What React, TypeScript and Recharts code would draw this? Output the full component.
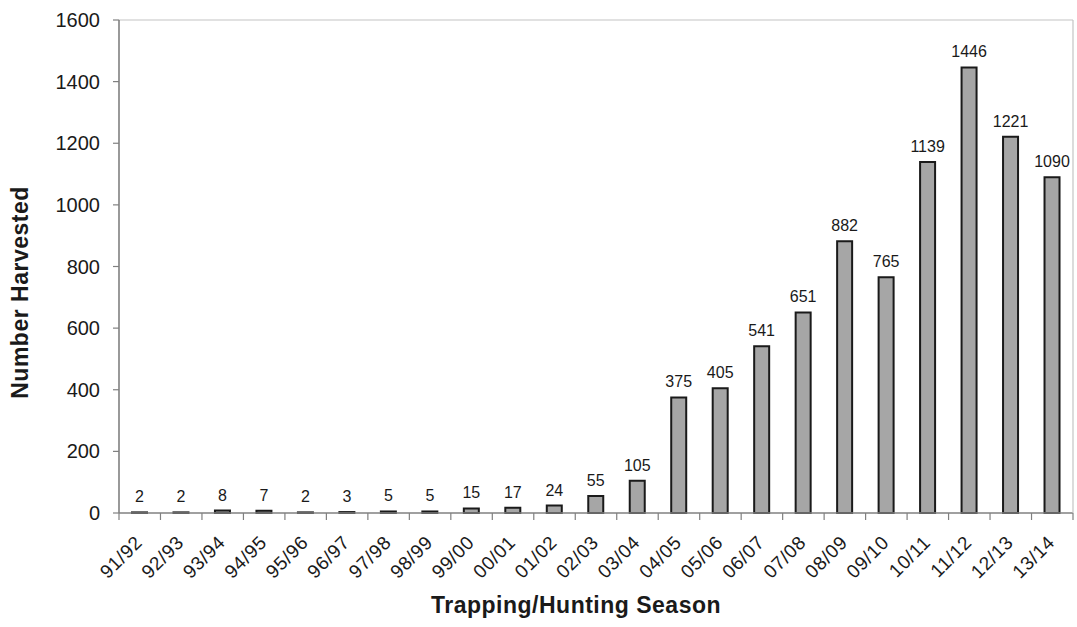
import React from 'react';
import { BarChart, Bar, XAxis, YAxis, LabelList, ReferenceLine } from 'recharts';

const seasons = ['91/92', '92/93', '93/94', '94/95', '95/96', '96/97', '97/98', '98/99', '99/00', '00/01', '01/02', '02/03', '03/04', '04/05', '05/06', '06/07', '07/08', '08/09', '09/10', '10/11', '11/12', '12/13', '13/14'];
const harvested = [2, 2, 8, 7, 2, 3, 5, 5, 15, 17, 24, 55, 105, 375, 405, 541, 651, 882, 765, 1139, 1446, 1221, 1090];
const yTicks = [0, 200, 400, 600, 800, 1000, 1200, 1400, 1600];

const data = seasons.map((s, i) => ({ season: s, value: harvested[i] }));

const W = 1077;
const H = 627;
const Y_AXIS_W = 119;
const RIGHT_W = 4;
const X_AXIS_H = 114;
const PLOT_W = W - Y_AXIS_W - RIGHT_W;

const FONT = '"Liberation Sans", Arial, sans-serif';
const TEXT = '#1a1a1a';
const AXIS = '#808080';
const BORDER = '#c4c4c4';

const XTick = (props: any) => {
  const { x, y, payload, index, visibleTicksCount, width } = props;
  const n = visibleTicksCount || seasons.length;
  const axisW = Number(width) > 100 ? Number(width) : PLOT_W;
  const band = axisW / n;
  return (
    <g>
      <line x1={x - band / 2} x2={x - band / 2} y1={y} y2={y + 7} stroke={AXIS} strokeWidth={1.2} />
      {index === n - 1 && (
        <line x1={x + band / 2} x2={x + band / 2} y1={y} y2={y + 7} stroke={AXIS} strokeWidth={1.2} />
      )}
      <text
        transform={`translate(${x - 1},${y + 26}) rotate(-45)`}
        textAnchor="end"
        dy="0.35em"
        fontSize={19}
        letterSpacing={0.6}
        fontFamily={FONT}
        fill={TEXT}
      >
        {payload.value}
      </text>
    </g>
  );
};

const YTitle = (props: any) => {
  const vb = props.viewBox || { x: 0, y: 20, width: Y_AXIS_W, height: 493 };
  const cx = vb.x + 28;
  const cy = vb.y + vb.height / 2 + 26;
  return (
    <text
      x={cx}
      y={cy}
      transform={`rotate(-90, ${cx}, ${cy})`}
      textAnchor="middle"
      fontSize={23}
      fontWeight="bold"
      letterSpacing={0.5}
      fontFamily={FONT}
      fill={TEXT}
    >
      Number Harvested
    </text>
  );
};

const XTitle = (props: any) => {
  const vb = props.viewBox || { x: Y_AXIS_W, y: 513, width: PLOT_W, height: X_AXIS_H };
  return (
    <text
      x={vb.x + vb.width / 2 - 20}
      y={vb.y + 100}
      textAnchor="middle"
      fontSize={23}
      fontWeight="bold"
      letterSpacing={0.5}
      fontFamily={FONT}
      fill={TEXT}
    >
      Trapping/Hunting Season
    </text>
  );
};

export default function App() {
  return (
    <div style={{ position: 'absolute', left: 0, top: 0, width: W, height: H, background: '#fff' }}>
      <BarChart
        width={W}
        height={H}
        data={data}
        margin={{ top: 20, right: 0, bottom: 0, left: 0 }}
      >
        <XAxis
          dataKey="season"
          height={X_AXIS_H}
          interval={0}
          tickLine={false}
          tickSize={0}
          tickMargin={0}
          axisLine={{ stroke: AXIS, strokeWidth: 1.6 }}
          tick={<XTick />}
          label={<XTitle />}
        />
        <YAxis
          yAxisId="left"
          width={Y_AXIS_W}
          domain={[0, 1600]}
          ticks={yTicks}
          interval={0}
          tickSize={6}
          tickMargin={13}
          axisLine={{ stroke: AXIS, strokeWidth: 1.6 }}
          tickLine={{ stroke: AXIS, strokeWidth: 1.2 }}
          tick={{ fontSize: 20, fill: TEXT, fontFamily: FONT }}
          label={<YTitle />}
        />
        <YAxis
          yAxisId="right"
          orientation="right"
          width={RIGHT_W}
          domain={[0, 1600]}
          tick={false}
          tickLine={false}
          axisLine={{ stroke: BORDER, strokeWidth: 1.2 }}
        />
        <ReferenceLine yAxisId="left" y={1600} stroke={BORDER} strokeWidth={1.2} />
        <Bar
          yAxisId="left"
          dataKey="value"
          barSize={15}
          fill="#a6a6a6"
          stroke="#1a1a1a"
          strokeWidth={2}
          isAnimationActive={false}
        >
          <LabelList
            dataKey="value"
            position="top"
            offset={10}
            fontSize={16}
            fill={TEXT}
            fontFamily={FONT}
          />
        </Bar>
      </BarChart>
    </div>
  );
}
